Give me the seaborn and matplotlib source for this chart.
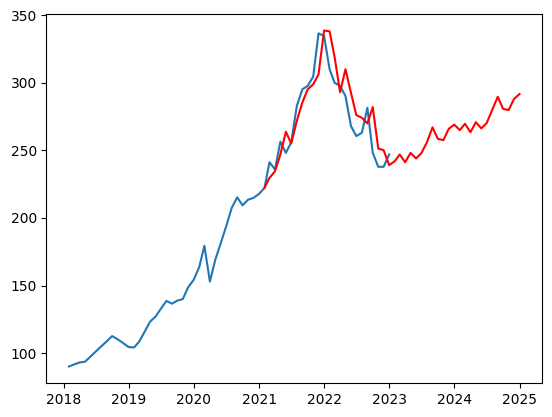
import pandas as pd
import matplotlib
matplotlib.use('Agg')
import matplotlib.pyplot as plt
import seaborn as sns

# Monthly values (month-end dates)
blue_start = '2018-01-31'
blue_values = [90.1, 91.6, 93.1, 93.6, 97.4, 101.2, 105.0, 108.8, 112.6, 110.2,
               107.5, 104.5, 104.2, 108.4, 115.8, 123.2, 127.0, 132.8, 138.6, 136.6,
               138.8, 140.0, 148.7, 154.2, 163.6, 179.4, 152.9, 169.0, 181.4, 193.7,
               207.3, 215.2, 209.3, 213.5, 214.8, 217.7, 222.2, 241.2, 235.8, 256.3,
               248.1, 256.0, 282.7, 295.1, 297.6, 304.5, 336.5, 334.6, 310.0, 300.0,
               297.6, 290.2, 267.9, 260.5, 263.0, 281.5, 248.1, 237.8, 237.8, 246.9]

red_start = '2021-01-31'
red_values = [222.2, 229.6, 234.5, 246.9, 263.7, 255.0, 271.6, 285.2, 295.1, 298.8,
              306.2, 338.6, 338.0, 319.0, 293.0, 310.0, 292.5, 276.0, 274.1, 269.9,
              282.0, 251.3, 250.1, 239.0, 241.9, 246.9, 241.2, 248.1, 244.0, 248.0,
              256.0, 267.0, 258.5, 257.5, 265.9, 269.0, 264.9, 269.6, 263.4, 270.8,
              266.2, 270.2, 280.0, 289.6, 280.6, 279.8, 288.0, 291.6]

blue_dates = pd.date_range(blue_start, periods=len(blue_values), freq=pd.offsets.MonthEnd())
red_dates = pd.date_range(red_start, periods=len(red_values), freq=pd.offsets.MonthEnd())

fig = plt.figure(figsize=(5.52, 4.17), dpi=100)
ax = fig.add_axes([0.0842, 0.0808, 0.8978, 0.8863])

sns.lineplot(x=blue_dates, y=blue_values, color='#1f77b4', linewidth=1.5, ax=ax)
sns.lineplot(x=red_dates, y=red_values, color='red', linewidth=1.5, ax=ax)

ax.set_xlabel('')
ax.set_ylabel('')

fig.savefig('out.png', dpi=100)
